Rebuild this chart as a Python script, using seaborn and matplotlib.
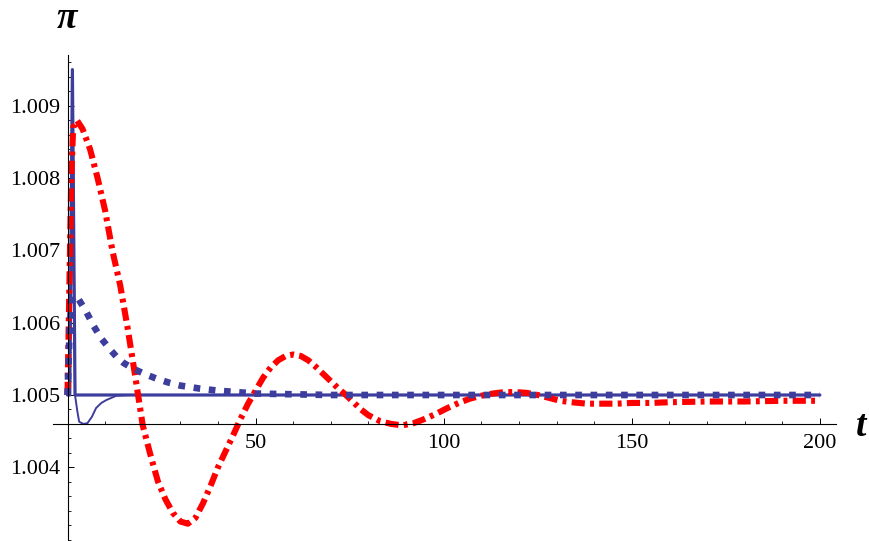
import matplotlib
matplotlib.use("Agg")
import matplotlib.pyplot as plt
import seaborn as sns
import numpy as np
import pandas as pd
from matplotlib.ticker import MultipleLocator, FormatStrFormatter, FixedLocator

# ---------------- data ----------------
red_t = [0, 0.5, 1.0, 1.5, 2.5, 4, 6, 8, 10, 12, 14, 16, 18, 20, 22, 24, 26, 28, 30, 32,
         34, 36, 38, 40, 42, 44, 46, 48, 50, 52, 54, 56, 58, 60, 62, 64, 66, 68, 70, 72,
         74, 76, 78, 80, 83, 86, 89, 92, 95, 98, 101, 104, 107, 110, 113, 116, 119, 122,
         125, 128, 131, 134, 138, 142, 146, 150, 155, 160, 170, 180, 190, 200]
red_v = [1.00500, 1.00650, 1.00800, 1.00870, 1.00880, 1.00868, 1.00840, 1.00800, 1.00755,
         1.00698, 1.00652, 1.00592, 1.00526, 1.00458, 1.00418, 1.00381, 1.00356, 1.00337,
         1.00325, 1.00322, 1.00330, 1.00350, 1.00374, 1.00400, 1.00422, 1.00444, 1.00467,
         1.00488, 1.00506, 1.00524, 1.00538, 1.00548, 1.00554, 1.00556, 1.00554, 1.00548,
         1.00539, 1.00529, 1.00519, 1.00509, 1.00500, 1.00490, 1.00480, 1.00472, 1.00464,
         1.00460, 1.00458, 1.00461, 1.00467, 1.00474, 1.00482, 1.00489, 1.00495, 1.00499,
         1.00502, 1.00504, 1.00504, 1.00503, 1.00500, 1.00496, 1.00492, 1.00490, 1.00488,
         1.00488, 1.00488, 1.00489, 1.00489, 1.00490, 1.00491, 1.00491, 1.00492, 1.00492]

dot_t = [0, 0.5, 1, 2, 3, 5, 7, 9, 11, 13, 15, 18, 21, 24, 27, 30, 35, 40, 45, 50, 60, 70,
         100, 150, 200]
dot_v = [1.00500, 1.00580, 1.00630, 1.00638, 1.00632, 1.00615, 1.00595, 1.00578, 1.00565,
         1.00553, 1.00544, 1.00535, 1.00528, 1.00522, 1.00517, 1.00513, 1.00509, 1.00506,
         1.00504, 1.00502, 1.00501, 1.00500, 1.00500, 1.00500, 1.00500]

thick_t = [0, 0.6, 1.3, 2.0, 200]
thick_v = [1.00500, 1.00500, 1.00950, 1.00500, 1.00500]

thin_t = [0, 0.6, 1.3, 2.0, 2.6, 3.1, 4.2, 5.3, 6.5, 7.6, 9.0, 10.3, 13, 16, 200]
thin_v = [1.00500, 1.00500, 1.00950, 1.00500, 1.00478, 1.00463, 1.00460, 1.00461, 1.00470,
          1.00482, 1.00489, 1.00493, 1.00499, 1.00500, 1.00500]

x_major = [50, 100, 150, 200]
y_major = [1.004, 1.005, 1.006, 1.007, 1.008, 1.009]

# ---------------- style ----------------
sns.set_theme(style="white")
plt.rcParams["font.family"] = ["Liberation Serif", "DejaVu Serif"]
plt.rcParams["lines.scale_dashes"] = False
plt.rcParams["text.color"] = "black"

BLUE = "#3D3D9E"
RED = "#FF0000"

W, H = 870, 541
fig = plt.figure(figsize=(W / 100, H / 100), dpi=100)
ax_left, ax_right, ax_top = 53, 836, 55
ax = fig.add_axes([ax_left / W, 0, (ax_right - ax_left) / W, (H - ax_top) / H])

sns.lineplot(x=thin_t, y=thin_v, ax=ax, color=BLUE, lw=1.4, estimator=None, sort=False)
sns.lineplot(x=thick_t, y=thick_v, ax=ax, color=BLUE, lw=2.3, estimator=None, sort=False)
sns.lineplot(x=red_t, y=red_v, ax=ax, color=RED, lw=4.4, estimator=None, sort=False,
             linestyle=(0, (9.5, 3.8, 2.8, 3.8)))
sns.lineplot(x=dot_t, y=dot_v, ax=ax, color=BLUE, lw=4.8, estimator=None, sort=False,
             linestyle=(0, (4.8, 6.2)))

# pixel mapping: x = 67.5 + 3.762 t ; y = 395 - (v - 1.005) * 72300
ax.set_xlim((ax_left - 67.5) / 3.762, (ax_right - 67.5) / 3.762)
ax.set_ylim(1.005 - (H - 395) / 72300, 1.005 + (395 - ax_top) / 72300)

for s in ["top", "right"]:
    ax.spines[s].set_visible(False)
ax.spines["left"].set_position(("data", 0))
ax.spines["bottom"].set_position(("data", 1.005 - 29 / 72300))
for s in ["left", "bottom"]:
    ax.spines[s].set_color("black")
    ax.spines[s].set_linewidth(0.8)

ax.xaxis.set_major_locator(FixedLocator(x_major))
ax.xaxis.set_minor_locator(MultipleLocator(10))
ax.yaxis.set_major_locator(FixedLocator(y_major))
ax.yaxis.set_minor_locator(MultipleLocator(0.0002))
ax.yaxis.set_major_formatter(FormatStrFormatter("%.3f"))

ax.tick_params(axis="both", which="major", direction="in", length=4.3, width=0.7,
               color="black", labelsize=16, labelcolor="black")
ax.tick_params(axis="both", which="minor", direction="in", length=2.5, width=0.6,
               color="black")
ax.tick_params(axis="x", which="major", pad=7)
ax.tick_params(axis="y", which="major", pad=5)
ax.tick_params(axis="both", which="both", bottom=True, left=True)
ax.set_xlabel("")
ax.set_ylabel("")
ax.patch.set_alpha(0)
ax.grid(False)

fig.text(861 / W, 1 - 426 / H, "t", fontsize=27, fontweight="bold", fontstyle="italic",
         ha="center", va="center", color="black")
fig.text(67 / W, 1 - 19 / H, "π", fontsize=27, fontweight="bold", fontstyle="italic",
         ha="center", va="center", color="black")

fig.savefig("out.png", dpi=100)
